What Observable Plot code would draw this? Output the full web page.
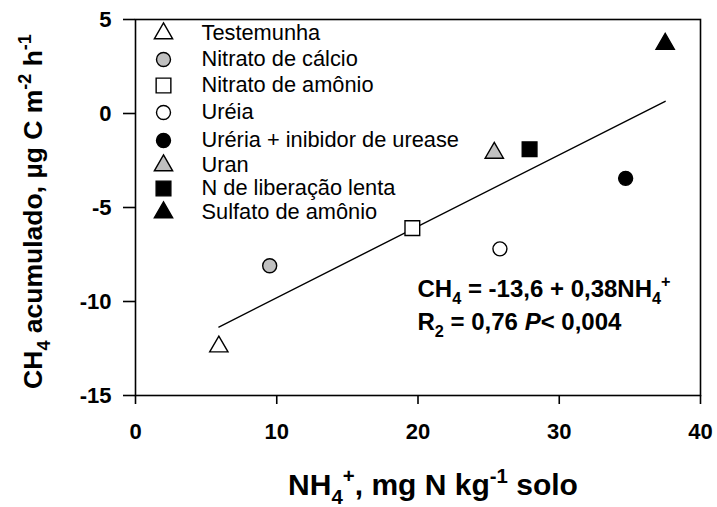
<!DOCTYPE html>
<html>
<head>
<meta charset="utf-8">
<script src="https://cdn.jsdelivr.net/npm/d3@7"></script>
<script src="https://cdn.jsdelivr.net/npm/@observablehq/plot@0.6"></script>
<style>
  html, body { margin: 0; padding: 0; background: #ffffff; }
  svg { display: block; }
</style>
</head>
<body>
<script>
// ---- Data ----
const categories = [
  "Testemunha",
  "Nitrato de cálcio",
  "Nitrato de amônio",
  "Uréia",
  "Uréria + inibidor de urease",
  "Uran",
  "N de liberação lenta",
  "Sulfato de amônio"
];
const nh4 = [5.9, 9.5, 19.6, 25.8, 34.7, 25.4, 27.9, 37.5];
const ch4 = [-12.4, -8.1, -6.1, -7.2, -3.45, -2.1, -1.9, 3.7];
const xTicks = [0, 10, 20, 30, 40];
const yTicks = [-15, -10, -5, 0, 5];
const fitIntercept = -13.6;
const fitSlope = 0.38;
const eqLine1 = "CH4 = -13,6 + 0,38NH4+";
const eqLine2 = "R2 = 0,76 P< 0,004";
const xTitle = "NH4+, mg N kg-1 solo";
const yTitle = "CH4 acumulado, µg C m-2 h-1";

// ---- Styles (per category) ----
const symbolOf = {
  "Testemunha": "triangle", "Nitrato de cálcio": "circle", "Nitrato de amônio": "square",
  "Uréia": "circle", "Uréria + inibidor de urease": "circle", "Uran": "triangle",
  "N de liberação lenta": "square", "Sulfato de amônio": "triangle"
};
const GREY = "#c0c0c0";
const fillOf = {
  "Testemunha": "white", "Nitrato de cálcio": GREY, "Nitrato de amônio": "white",
  "Uréia": "white", "Uréria + inibidor de urease": "black", "Uran": GREY,
  "N de liberação lenta": "black", "Sulfato de amônio": "black"
};
const rOf = {circle: 7, square: 8.3, triangle: 6.8};

const points = categories.map((c, i) => ({cat: c, x: nh4[i], y: ch4[i]}));
const xs = d3.extent(nh4);
const fit = xs.map(x => ({x, y: fitIntercept + fitSlope * x}));

const FONT = "'Liberation Sans', Arial, Helvetica, sans-serif";
const legendRowDy = [14, 40, 66, 93, 121, 146, 169, 193];

const dotMarks = ["circle", "square", "triangle"].map(s =>
  Plot.dot(points.filter(d => symbolOf[d.cat] === s), {
    x: "x", y: "y", symbol: () => s, r: rOf[s],
    fill: d => fillOf[d.cat], stroke: "black", strokeWidth: 1.4
  })
);

const legendMarks = categories.flatMap((c, i) => [
  Plot.dot([c], {
    frameAnchor: "top-left", dx: 28, dy: legendRowDy[i],
    symbol: () => symbolOf[c], r: rOf[symbolOf[c]],
    fill: () => fillOf[c], stroke: "black", strokeWidth: 1.4
  }),
  Plot.text([c], {
    frameAnchor: "top-left", dx: 66, dy: legendRowDy[i], text: d => d,
    textAnchor: "start", lineAnchor: "middle", fontSize: 21.8, fill: "black"
  })
]);

const chart = Plot.plot({
  width: 717,
  height: 507,
  marginLeft: 135,
  marginRight: 17,
  marginTop: 19,
  marginBottom: 112,
  style: {fontFamily: FONT, background: "white", color: "black"},
  x: {domain: [0, 40]},
  y: {domain: [-15, 5]},
  marks: [
    Plot.frame({stroke: "black", strokeWidth: 1.6}),
    Plot.axisX({ticks: xTicks, tickSize: 9, tickPadding: 19, tickFormat: d => String(d),
      label: null, fontSize: 22, fontWeight: "bold", strokeWidth: 1.6}),
    Plot.axisY({ticks: yTicks, tickSize: 12, tickPadding: 12, tickFormat: d => String(d),
      label: null, fontSize: 22, fontWeight: "bold", strokeWidth: 1.6}),
    Plot.line(fit, {x: "x", y: "y", stroke: "black", strokeWidth: 1.4}),
    ...dotMarks,
    ...legendMarks,
    Plot.text([eqLine1], {frameAnchor: "top-left", dx: 282, dy: 270, text: d => d,
      textAnchor: "start", lineAnchor: "middle", fontSize: 24, fontWeight: "bold", className: "eq1"}),
    Plot.text([eqLine2], {frameAnchor: "top-left", dx: 282, dy: 303, text: d => d,
      textAnchor: "start", lineAnchor: "middle", fontSize: 24, fontWeight: "bold", className: "eq2"}),
    Plot.text([xTitle], {frameAnchor: "bottom", dy: 90, dx: 15, text: d => d,
      textAnchor: "middle", lineAnchor: "middle", fontSize: 30, fontWeight: "bold", className: "xtitle"}),
    Plot.text([yTitle], {frameAnchor: "left", dx: -102, dy: 4, rotate: -90, text: d => d,
      textAnchor: "middle", lineAnchor: "middle", fontSize: 26.5, fontWeight: "bold", className: "ytitle"})
  ]
});

// ---- Rich text (sub/superscripts, italics) ----
const NS = "http://www.w3.org/2000/svg";
function rich(selector, parts, fs) {
  const el = chart.querySelector(selector);
  if (!el) return;
  el.textContent = "";
  let off = 0;
  for (const [t, kind] of parts) {
    const ts = document.createElementNS(NS, "tspan");
    const target = kind === "sub" ? 0.3 * fs : kind === "sup" ? -0.42 * fs : 0;
    ts.setAttribute("dy", (target - off).toFixed(2));
    off = target;
    if (kind === "sub" || kind === "sup") ts.setAttribute("font-size", (0.68 * fs).toFixed(1));
    if (kind === "i") ts.setAttribute("font-style", "italic");
    ts.textContent = t;
    el.appendChild(ts);
  }
}
rich(".eq1 text", [["CH"], ["4", "sub"], [" = -13,6 + 0,38NH"], ["4", "sub"], ["+", "sup"]], 24);
rich(".eq2 text", [["R"], ["2", "sub"], [" = 0,76 "], ["P", "i"], ["< 0,004"]], 24);
rich(".xtitle text", [["NH"], ["4", "sub"], ["+", "sup"], [", mg N kg"], ["-1", "sup"], [" solo"]], 30);
rich(".ytitle text", [["CH"], ["4", "sub"], [" acumulado, µg C m"], ["-2", "sup"], [" h"], ["-1", "sup"]], 26.5);

document.body.appendChild(chart);
</script>
</body>
</html>
